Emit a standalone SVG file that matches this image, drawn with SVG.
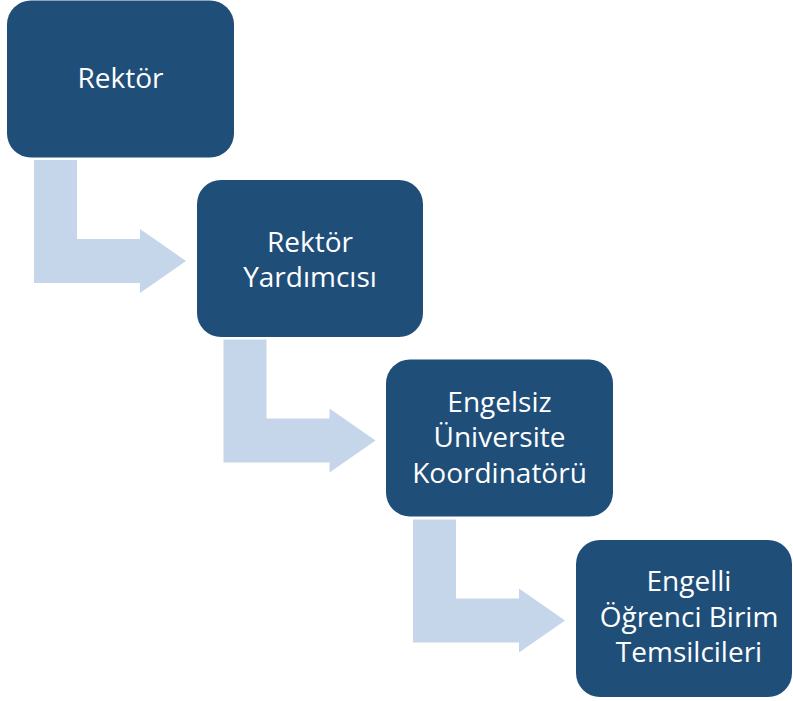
<svg xmlns="http://www.w3.org/2000/svg" width="793" height="701" viewBox="0 0 793 701">
<style>
.box{fill:#1F4E79;}
.arr{fill:#C5D5EA;}
.t{fill:#ffffff;font-family:"Open Sans","Noto Sans","DejaVu Sans",sans-serif;font-size:28px;text-anchor:middle;}
</style>
<rect width="793" height="701" fill="#ffffff"/>
<g id="connectors">
<path class="arr" d="M34,160 H77 V239 H140 V229 L186,261 L140,293 V283 H34 Z"/>
<path class="arr" transform="translate(189.5,179.5)" d="M34,160 H77 V239 H140 V229 L186,261 L140,293 V283 H34 Z"/>
<path class="arr" transform="translate(379,359.5)" d="M34,160 H77 V239 H140 V229 L186,261 L140,293 V283 H34 Z"/>
</g>
<g id="n1">
<rect class="box" x="7" y="0.5" width="227" height="157" rx="24"/>
<text class="t" x="120.5" y="88">Rektör</text>
</g>
<g id="n2">
<rect class="box" x="197" y="180" width="226" height="157" rx="24"/>
<text class="t" x="310" y="252">Rektör</text>
<text class="t" x="310" y="287">Yardımcısı</text>
</g>
<g id="n3">
<rect class="box" x="386" y="359.5" width="227" height="157" rx="24"/>
<text class="t" x="499.5" y="412">Engelsiz</text>
<text class="t" x="499.5" y="447">Üniversite</text>
<text class="t" x="499.5" y="483">Koordinatörü</text>
</g>
<g id="n4">
<rect class="box" x="576" y="540" width="216" height="157" rx="24"/>
<text class="t" x="689" y="591">Engelli</text>
<text class="t" x="689" y="627">Öğrenci Birim</text>
<text class="t" x="689" y="662">Temsilcileri</text>
</g>
</svg>
